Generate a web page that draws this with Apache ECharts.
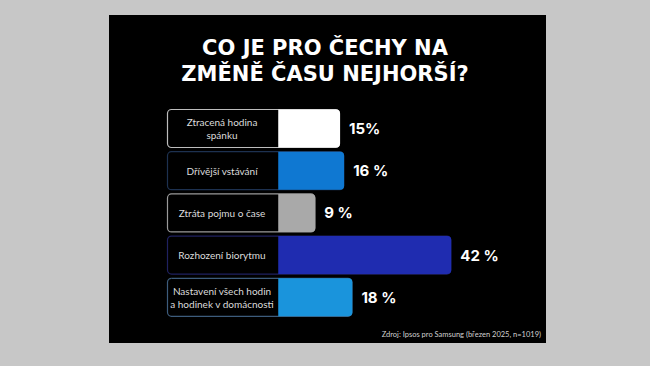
<!DOCTYPE html>
<html>
<head>
<meta charset="utf-8">
<script src="https://cdn.jsdelivr.net/npm/echarts@6/dist/echarts.min.js"></script>
<style>html,body{margin:0;padding:0;background:#c7c7c7;}#c{width:650px;height:366px;}</style>
</head>
<body>
<div id="c"></div>
<script>
const titleLines = ['CO JE PRO ČECHY NA', 'ZMĚNĚ ČASU NEJHORŠÍ?'];
const categories = ['Ztracená hodina\nspánku', 'Dřívější vstávání', 'Ztráta pojmu o čase', 'Rozhození biorytmu', 'Nastavení všech hodin\na hodinek v domácnosti'];
const values = [15, 16, 9, 42, 18];
const valueLabels = ['15%', '16 %', '9 %', '42 %', '18 %'];
const barColors = ['#ffffff', '#0f78d2', '#a9a9a9', '#1f2cb0', '#1a94dc'];
const boxBorders = ['#bdbdbd', '#1d3150', '#9a9a9a', '#1f2160', '#3d5c7c'];
const sourceText = 'Zdroj: Ipsos pro Samsung (březen 2025, n=1019)';
const labelBoxStart = -27;

const chart = echarts.init(document.getElementById('c'), null, {renderer: 'svg'});
const titleFont = 'bold 21px "DejaVu Sans"';
chart.setOption({
  backgroundColor: '#c7c7c7',
  animation: false,
  graphic: [
    {type: 'rect', z: -10, shape: {x: 109, y: 15, width: 437, height: 328}, style: {fill: '#000000'}},
    {type: 'text', z: 10, left: 'center', top: 37, style: {text: titleLines[0], fill: '#ffffff', font: titleFont}},
    {type: 'text', z: 10, left: 'center', top: 63, style: {text: titleLines[1], fill: '#ffffff', font: titleFont}},
    {type: 'text', z: 10, right: 109, top: 330, style: {text: sourceText, fill: '#d0d0d0', font: '7.5px Lato', align: 'right'}}
  ],
  grid: {left: 167, right: 124.6, top: 107.4, bottom: 47.6},
  xAxis: {type: 'value', min: labelBoxStart, max: 60, show: false},
  yAxis: {
    type: 'category', data: categories, inverse: true,
    axisLine: {show: false}, axisTick: {show: false},
    axisLabel: {margin: -55, align: 'center', color: '#dcdcdc', fontSize: 10, lineHeight: 13, fontFamily: 'Lato'}
  },
  series: [
    {
      type: 'custom', z: 1,
      data: values.map((v, i) => [v, i]),
      encode: {x: 0, y: 1},
      renderItem: function (params, api) {
        const i = api.value(1);
        const s = api.coord([labelBoxStart, i]);
        const e = api.coord([api.value(0), i]);
        const h = 38;
        return {
          type: 'rect',
          shape: {x: s[0] + 0.5, y: s[1] - h / 2, width: e[0] - s[0] - 1, height: h, r: 4},
          style: {fill: 'transparent', stroke: boxBorders[i], lineWidth: 1.2}
        };
      }
    },
    {
      type: 'bar', z: 3, barWidth: 38,
      data: values.map((v, i) => ({value: v, itemStyle: {color: barColors[i]}})),
      itemStyle: {borderRadius: [0, 4, 4, 0]},
      label: {
        show: true, position: 'right', distance: 9,
        formatter: p => valueLabels[p.dataIndex],
        color: '#ffffff', fontSize: 15, fontWeight: 'bold', fontFamily: 'Inter'
      }
    }
  ]
});
</script>
</body>
</html>
